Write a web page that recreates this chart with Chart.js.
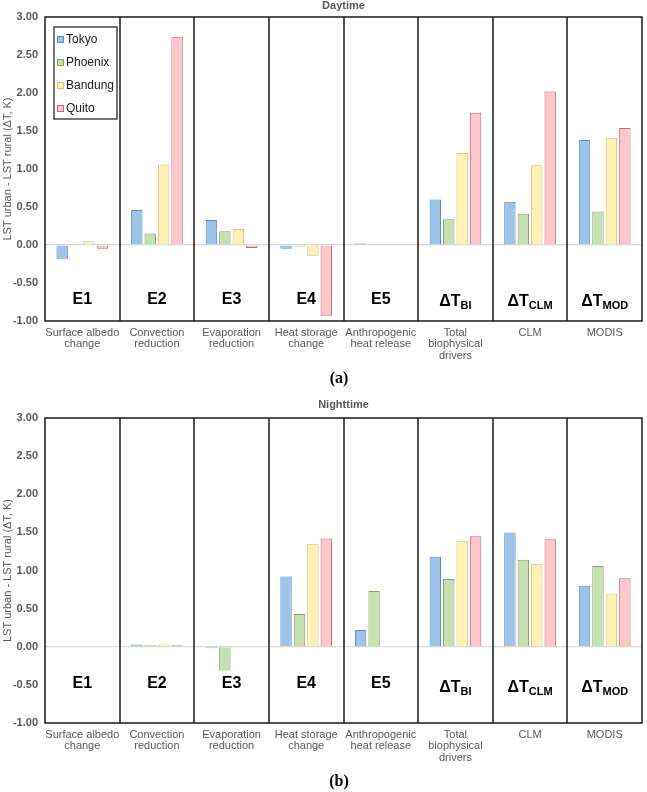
<!DOCTYPE html>
<html lang="en">
<head>
    <meta charset="UTF-8">
    <title>Urban - rural LST difference by driver</title>
    <script src="https://cdn.jsdelivr.net/npm/chart.js"></script>
    <style>
        * { margin: 0; padding: 0; box-sizing: border-box; }
        body { background: #fff; width: 647px; height: 792px; overflow: hidden; font-family: Arial, 'Liberation Sans', sans-serif; }
        .box { position: relative; width: 647px; height: 396px; }
    </style>
</head>
<body>

<div class="box"><canvas id="dayChart"></canvas></div>
<div class="box"><canvas id="nightChart"></canvas></div>

<script>
    // categories (bottom labels) and panel tags
    const categories = [
        ['Surface albedo', 'change'], ['Convection', 'reduction'], ['Evaporation', 'reduction'],
        ['Heat storage', 'change'], ['Anthropogenic', 'heat release'], ['Total', 'biophysical', 'drivers'],
        ['CLM'], ['MODIS']
    ];
    const panelTags = [['E1'], ['E2'], ['E3'], ['E4'], ['E5'], ['ΔT', 'BI'], ['ΔT', 'CLM'], ['ΔT', 'MOD']];
    const cities = ['Tokyo', 'Phoenix', 'Bandung', 'Quito'];
    const yTicks = [-1, -0.5, 0, 0.5, 1, 1.5, 2, 2.5, 3];

    // daytime values (K)
    const dayTokyo   = [-0.18, 0.46, 0.33, -0.05, 0.02, 0.60, 0.57, 1.38];
    const dayPhoenix = [0.01, 0.15, 0.18, -0.02, 0.01, 0.34, 0.41, 0.44];
    const dayBandung = [0.05, 1.06, 0.21, -0.14, 0, 1.21, 1.05, 1.41];
    const dayQuito   = [-0.05, 2.74, -0.04, -0.93, 0, 1.74, 2.02, 1.54];

    // nighttime values (K)
    const nightTokyo   = [0, 0.03, -0.02, 0.92, 0.22, 1.18, 1.50, 0.80];
    const nightPhoenix = [0, 0.02, -0.31, 0.43, 0.73, 0.89, 1.14, 1.06];
    const nightBandung = [0, 0.03, 0.01, 1.35, 0, 1.39, 1.09, 0.70];
    const nightQuito   = [0, 0.02, 0.01, 1.42, 0, 1.45, 1.41, 0.90];

    const fills   = ['#9dc3e6', '#c6e0b4', '#fff0b5', '#ffc7cc'];
    const borders = ['#5b8cc0', '#7fa660', '#d9c27a', '#cf6474'];

    const gray = '#595959';

    function makeDatasets(series) {
        return series.map((d, i) => ({
            label: cities[i],
            data: d,
            backgroundColor: fills[i],
            borderColor: borders[i],
            borderWidth: 1,
            categoryPercentage: 0.72,
            barPercentage: 0.85
        }));
    }

    // frame, panel tags, legend, title and sub-figure letter
    const decor = {
        id: 'decor',
        afterDatasetsDraw(chart, args, opts) {
            const ctx = chart.ctx;
            const a = chart.chartArea;
            const x = chart.scales.x, y = chart.scales.y;
            ctx.save();

            // panel separators + frame
            ctx.strokeStyle = '#1a1a1a';
            ctx.lineWidth = 1.5;
            for (let i = 1; i < categories.length; i++) {
                const px = Math.round((x.getPixelForValue(i - 1) + x.getPixelForValue(i)) / 2);
                ctx.beginPath();
                ctx.moveTo(px, a.top);
                ctx.lineTo(px, a.bottom);
                ctx.stroke();
            }
            ctx.strokeRect(a.left, a.top, a.right - a.left, a.bottom - a.top);

            // panel tags
            ctx.fillStyle = '#000';
            ctx.textBaseline = 'middle';
            panelTags.forEach((t, i) => {
                const cx = x.getPixelForValue(i);
                if (t.length === 1) {
                    const cy = y.getPixelForValue(opts.tagY);
                    ctx.font = 'bold 16px Arial, "Liberation Sans"';
                    ctx.textAlign = 'center';
                    ctx.fillText(t[0], cx, cy);
                } else {
                    const cy = y.getPixelForValue(opts.deltaY);
                    ctx.font = 'bold 16px Arial, "Liberation Sans"';
                    const w1 = ctx.measureText(t[0]).width;
                    ctx.font = 'bold 11px Arial, "Liberation Sans"';
                    const w2 = ctx.measureText(t[1]).width;
                    const sx = cx - (w1 + w2) / 2;
                    ctx.textAlign = 'left';
                    ctx.font = 'bold 16px Arial, "Liberation Sans"';
                    ctx.fillText(t[0], sx, cy);
                    ctx.font = 'bold 11px Arial, "Liberation Sans"';
                    ctx.fillText(t[1], sx + w1, cy + 5);
                }
            });

            // legend
            if (opts.legend) {
                const lx = a.left + 9, ly = a.top + 10;
                ctx.fillStyle = '#fff';
                ctx.fillRect(lx, ly, 63, 92);
                ctx.strokeStyle = '#1a1a1a';
                ctx.lineWidth = 1.2;
                ctx.strokeRect(lx, ly, 63, 92);
                ctx.font = '12px Arial, "Liberation Sans"';
                ctx.textAlign = 'left';
                chart.data.datasets.forEach((ds, i) => {
                    const iy = ly + 12 + i * 23;
                    ctx.fillStyle = ds.backgroundColor;
                    ctx.fillRect(lx + 3, iy - 3, 6, 6);
                    ctx.strokeStyle = ds.borderColor;
                    ctx.lineWidth = 1;
                    ctx.strokeRect(lx + 3.5, iy - 2.5, 6, 6);
                    ctx.fillStyle = '#1a1a1a';
                    ctx.fillText(ds.label, lx + 12, iy + 1);
                });
            }

            // title
            ctx.fillStyle = gray;
            ctx.font = 'bold 11px Arial, "Liberation Sans"';
            ctx.textAlign = 'center';
            ctx.fillText(opts.title, (a.left + a.right) / 2, opts.titleY);

            // sub-figure letter
            ctx.fillStyle = '#000';
            ctx.font = 'bold 16px "Liberation Serif", "DejaVu Serif", serif';
            ctx.fillText(opts.letter, 339, opts.letterY);
            ctx.restore();
        }
    };

    function buildChart(id, series, o) {
        return new Chart(document.getElementById(id), {
            type: 'bar',
            data: { labels: categories, datasets: makeDatasets(series) },
            options: {
                responsive: false,
                animation: false,
                layout: { padding: { top: o.top, right: 5, left: 0, bottom: 0 } },
                plugins: {
                    legend: { display: false },
                    tooltip: { enabled: false },
                    decor: o
                },
                scales: {
                    x: {
                        grid: { display: false, drawTicks: false },
                        border: { display: false },
                        ticks: {
                            color: gray, autoSkip: false, maxRotation: 0, padding: 6,
                            font: { family: 'Arial, "Liberation Sans"', size: 11, lineHeight: 1.05 }
                        },
                        afterFit: s => { s.height = o.xHeight; }
                    },
                    y: {
                        min: -1, max: 3,
                        afterBuildTicks: s => { s.ticks = yTicks.map(v => ({ value: v })); },
                        grid: {
                            drawTicks: false,
                            color: c => (c.tick && c.tick.value === 0 ? '#d9d9d9' : 'rgba(0,0,0,0)'),
                            lineWidth: 1.2
                        },
                        border: { display: false },
                        ticks: {
                            color: gray, padding: 7,
                            font: { family: 'Arial, "Liberation Sans"', size: 11, weight: 'bold' },
                            callback: v => Number(v).toFixed(2)
                        },
                        title: {
                            display: true, text: 'LST urban - LST rural (ΔT, K)', color: gray,
                            padding: { top: 1, bottom: 0 },
                            font: { family: 'Arial, "Liberation Sans"', size: 11 }
                        },
                        afterFit: s => { s.width = 45; }
                    }
                }
            },
            plugins: [decor]
        });
    }

    const c1 = document.getElementById('dayChart');
    c1.width = 647; c1.height = 396;
    const c2 = document.getElementById('nightChart');
    c2.width = 647; c2.height = 396;

    buildChart('dayChart', [dayTokyo, dayPhoenix, dayBandung, dayQuito], {
        top: 17, xHeight: 75, tagY: -0.72, deltaY: -0.74, legend: true,
        title: 'Daytime', titleY: 6, letter: '(a)', letterY: 379
    });
    buildChart('nightChart', [nightTokyo, nightPhoenix, nightBandung, nightQuito], {
        top: 22, xHeight: 69, tagY: -0.48, deltaY: -0.53, legend: false,
        title: 'Nighttime', titleY: 9, letter: '(b)', letterY: 386
    });
</script>

</body>
</html>
